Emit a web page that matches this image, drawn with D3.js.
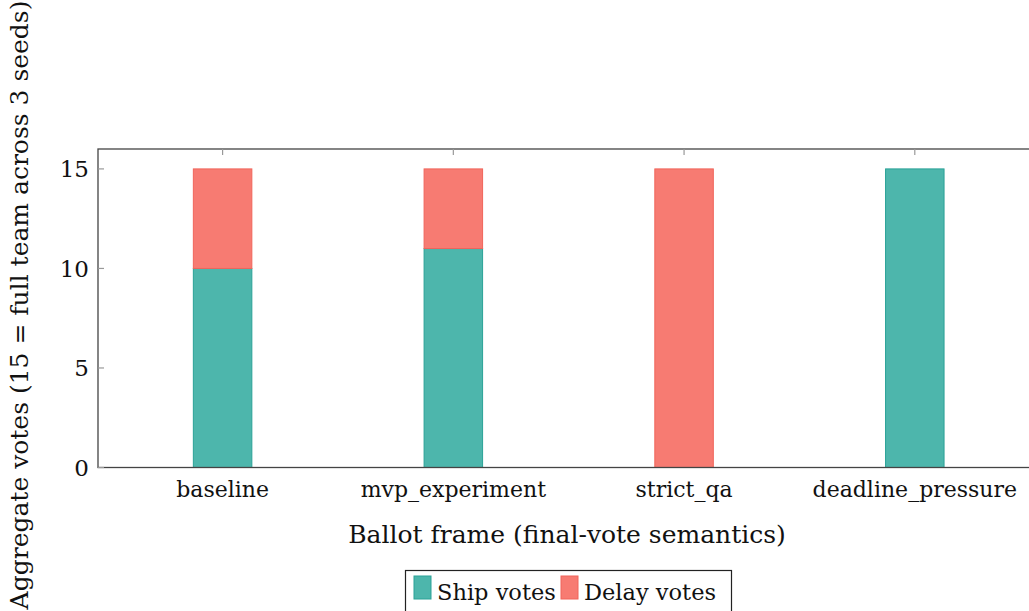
<!DOCTYPE html>
<html><head><meta charset="utf-8">
<script src="https://cdn.jsdelivr.net/npm/d3@7/dist/d3.min.js"></script>
<style>
body{margin:0;background:#fff;}
svg{display:block;}
text{font-family:"DejaVu Serif","Liberation Serif",serif;fill:#111;}
</style></head>
<body>
<svg id="c" width="1029" height="611"></svg>
<script>
const categories = ["baseline","mvp_experiment","strict_qa","deadline_pressure"];
const shipVotes = [10, 11, 0, 15];
const delayVotes = [5, 4, 15, 0];
const yTicks = [0, 5, 10, 15];
const seriesNames = ["Ship votes","Delay votes"];
const colors = {fill:["#4db6ac","#f77b72"], stroke:["#2ba297","#f0655b"]};

const svg = d3.select("#c");
const L = 98, R = 1039.4, T = 149, B = 467.5;
const x = d3.scaleLinear().domain([-0.54, 3.54]).range([L, R]);
const y = d3.scaleLinear().domain([0, 16]).range([B, T]);
const barW = 58.5;

const rows = categories.map((c,i)=>({c, i, ship:shipVotes[i], delay:delayVotes[i]}));
const stack = d3.stack().keys(["ship","delay"])(rows);

const g = svg.append("g");
stack.forEach((layer, k) => {
  g.selectAll(null).data(layer.filter(d=>d[1]-d[0]>0)).enter().append("rect")
    .attr("x", d => x(d.data.i) - barW/2)
    .attr("width", barW)
    .attr("y", d => y(d[1]))
    .attr("height", d => y(d[0]) - y(d[1]))
    .attr("fill", colors.fill[k])
    .attr("stroke", colors.stroke[k])
    .attr("stroke-width", 1);
});

svg.append("rect").attr("x", L).attr("y", T).attr("width", R-L).attr("height", B-T)
  .attr("fill","none").attr("stroke","#444").attr("stroke-width",1.3);

yTicks.forEach(v=>{
  svg.append("line").attr("x1",L).attr("x2",L+6).attr("y1",y(v)).attr("y2",y(v)).attr("stroke","#999").attr("stroke-width",1.2);
  svg.append("line").attr("x1",R-6).attr("x2",R).attr("y1",y(v)).attr("y2",y(v)).attr("stroke","#999").attr("stroke-width",1.2);
  svg.append("text").attr("x", L-9).attr("y", y(v)).attr("dy","0.36em").attr("text-anchor","end")
    .style("font-size","23px").text(v);
});
categories.forEach((c,i)=>{
  svg.append("line").attr("x1",x(i)).attr("x2",x(i)).attr("y1",T).attr("y2",T+6).attr("stroke","#999").attr("stroke-width",1.2);
  svg.append("text").attr("x", x(i)).attr("y", 497).attr("text-anchor","middle")
    .style("font-size","22px").text(c);
});

svg.append("text").attr("x", 567).attr("y", 543).attr("text-anchor","middle")
  .style("font-size","25px").text("Ballot frame (final-vote semantics)");
svg.append("text").attr("transform", `translate(28, 305) rotate(-90)`).attr("text-anchor","middle")
  .style("font-size","25px").text("Aggregate votes (15 = full team across 3 seeds)");

const lg = svg.append("g");
lg.append("rect").attr("x",405.5).attr("y",570.5).attr("width",326).attr("height",50)
  .attr("fill","#fff").attr("stroke","#222").attr("stroke-width",1.2);
const items = [{x:414, tx:437}, {x:561, tx:584}];
seriesNames.forEach((n,k)=>{
  lg.append("rect").attr("x",items[k].x).attr("y",576).attr("width",17).attr("height",23)
    .attr("fill",colors.fill[k]).attr("stroke",colors.stroke[k]);
  lg.append("text").attr("x",items[k].tx).attr("y",600).style("font-size","22.5px").text(n);
});
</script>
</body></html>
